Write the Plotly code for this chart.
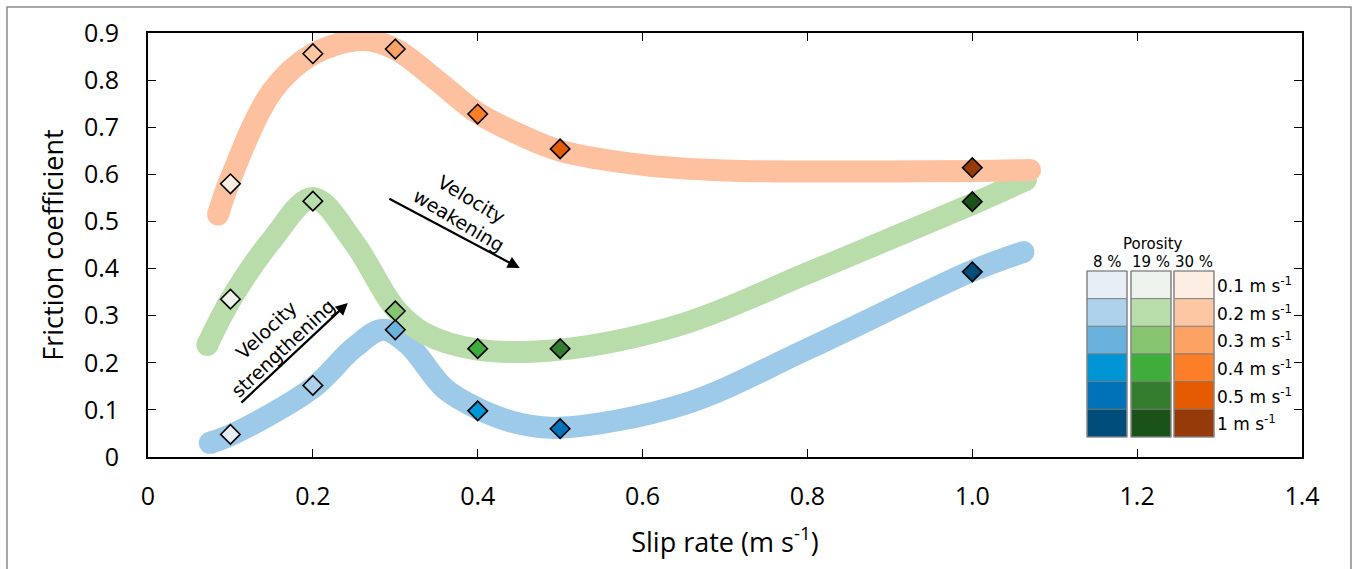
import plotly.graph_objects as go

# Measured friction coefficients at each slip rate, one series per porosity
slip_rate = [0.1, 0.2, 0.3, 0.4, 0.5, 1.0]
mu_8 = [0.048, 0.152, 0.270, 0.098, 0.060, 0.393]
mu_19 = [0.335, 0.543, 0.310, 0.230, 0.230, 0.542]
mu_30 = [0.580, 0.856, 0.866, 0.728, 0.654, 0.614]

# Hand-drawn trend bands behind the measurements
trend_x_8 = [0.075, 0.1, 0.2, 0.25, 0.285, 0.315, 0.36, 0.4, 0.45, 0.5, 0.65, 0.8, 1.0, 1.062]
trend_8 = [0.030, 0.046, 0.147, 0.232, 0.270, 0.240, 0.145, 0.103, 0.071, 0.062, 0.112, 0.229, 0.395, 0.435]
trend_x_19 = [0.072, 0.1, 0.15, 0.2, 0.25, 0.3, 0.335, 0.4, 0.5, 0.65, 0.8, 1.0, 1.065]
trend_19 = [0.238, 0.333, 0.460, 0.550, 0.455, 0.315, 0.263, 0.228, 0.228, 0.283, 0.390, 0.537, 0.588]
trend_x_30 = [0.085, 0.1, 0.15, 0.2, 0.26, 0.3, 0.35, 0.4, 0.45, 0.5, 0.6, 0.7, 0.85, 1.0, 1.07]
trend_30 = [0.515, 0.590, 0.775, 0.855, 0.885, 0.866, 0.800, 0.730, 0.685, 0.650, 0.620, 0.608, 0.606, 0.607, 0.609]

porosity_labels = ["8 %", "19 %", "30 %"]
rate_labels = ["0.1 m s<sup>-1</sup>", "0.2 m s<sup>-1</sup>", "0.3 m s<sup>-1</sup>",
               "0.4 m s<sup>-1</sup>", "0.5 m s<sup>-1</sup>", "1 m s<sup>-1</sup>"]

# Colour ramps (one shade per slip rate) for each porosity
blues = ["#e8eef5", "#aed2ec", "#6bb1dd", "#0095d5", "#0072b8", "#004c7a"]
greens = ["#edf3ec", "#b9ddaa", "#86c46f", "#3fad3b", "#347c2e", "#1a5219"]
oranges = ["#fdeee4", "#fdc7a3", "#fda265", "#fd7e28", "#e45b02", "#953a08"]
band_colors = ["#9ecae9", "#b8ddaa", "#fdc1a0"]

x_ticks = [0, 0.2, 0.4, 0.6, 0.8, 1.0, 1.2, 1.4]
x_ticktext = ["0", "0.2", "0.4", "0.6", "0.8", "1.0", "1.2", "1.4"]
y_ticks = [0, 0.1, 0.2, 0.3, 0.4, 0.5, 0.6, 0.7, 0.8, 0.9]
y_ticktext = ["0", "0.1", "0.2", "0.3", "0.4", "0.5", "0.6", "0.7", "0.8", "0.9"]

W, H = 1356, 569
M_L, M_R, M_T, M_B = 148, 54, 33, 112
PW, PH = W - M_L - M_R, H - M_T - M_B


def px(xp):
    return (xp - M_L) / PW


def py(yp):
    return (H - M_B - yp) / PH


fig = go.Figure()

BAND_W = 22
for tx, ty, col in [(trend_x_8, trend_8, band_colors[0]),
                    (trend_x_19, trend_19, band_colors[1]),
                    (trend_x_30, trend_30, band_colors[2])]:
    fig.add_trace(go.Scatter(x=tx, y=ty, mode="lines",
                             line=dict(color=col, width=BAND_W, shape="spline", smoothing=1.0),
                             hoverinfo="skip", showlegend=False))
    # rounded ends of the band
    fig.add_trace(go.Scatter(x=[tx[0], tx[-1]], y=[ty[0], ty[-1]], mode="markers",
                             marker=dict(color=col, size=BAND_W, line=dict(width=0)),
                             hoverinfo="skip", showlegend=False))

for mu, ramp, name in [(mu_8, blues, "8 %"), (mu_19, greens, "19 %"), (mu_30, oranges, "30 %")]:
    fig.add_trace(go.Scatter(x=slip_rate, y=mu, mode="markers", name=name,
                             marker=dict(symbol="diamond", size=15, color=ramp,
                                         line=dict(color="black", width=1.6)),
                             showlegend=False))

shapes = []
annotations = []

# Outer frame around the figure
shapes.append(dict(type="rect", xref="paper", yref="paper",
                   x0=px(7), x1=px(1351), y0=py(600), y1=py(7),
                   line=dict(color="#8a8a8a", width=1.5), fillcolor="rgba(0,0,0,0)", layer="below"))

# Colour key grid: porosity columns x slip-rate rows
col_edges = [(1087, 1127), (1131, 1171), (1174, 1214)]
row_top, row_bot = 271, 437
n_rows = len(rate_labels)
row_h = (row_bot - row_top) / n_rows
for (c0, c1), ramp in zip(col_edges, [blues, greens, oranges]):
    for i, colr in enumerate(ramp):
        y0 = row_top + i * row_h
        shapes.append(dict(type="rect", xref="paper", yref="paper",
                           x0=px(c0), x1=px(c1), y0=py(y0 + row_h), y1=py(y0),
                           fillcolor=colr, line=dict(color="#7a7a7a", width=0.8)))
    shapes.append(dict(type="rect", xref="paper", yref="paper",
                       x0=px(c0), x1=px(c1), y0=py(row_bot), y1=py(row_top),
                       fillcolor="rgba(0,0,0,0)", line=dict(color="#8a8a8a", width=1.2)))

rate_font = dict(family="DejaVu Sans, Verdana", size=17, color="black")
head_font = dict(family="DejaVu Sans, Verdana", size=15, color="black")
for i, lab in enumerate(rate_labels):
    annotations.append(dict(xref="paper", yref="paper", x=px(1215), y=py(row_top + (i + 0.5) * row_h),
                            text=lab, showarrow=False, xanchor="left", yanchor="middle", font=rate_font))
annotations.append(dict(xref="paper", yref="paper", x=px(1153), y=py(244), text="Porosity",
                        showarrow=False, xanchor="center", yanchor="middle", font=head_font))
for (c0, c1), lab in zip(col_edges, porosity_labels):
    annotations.append(dict(xref="paper", yref="paper", x=px((c0 + c1) / 2), y=py(262), text=lab,
                            showarrow=False, xanchor="center", yanchor="middle", font=head_font))

# Trend arrows with their labels
ann_font = dict(family="DejaVu Sans, Verdana", size=19, color="black")
annotations.append(dict(x=0.2424, y=0.327, ax=0.1115, ay=0.1125, xref="x", yref="y",
                        axref="x", ayref="y", text="", showarrow=True,
                        arrowhead=2, arrowsize=1.1, arrowwidth=2.2, arrowcolor="black"))
annotations.append(dict(x=0.451, y=0.401, ax=0.291, ay=0.55, xref="x", yref="y",
                        axref="x", ayref="y", text="", showarrow=True,
                        arrowhead=2, arrowsize=1.1, arrowwidth=2.2, arrowcolor="black"))
annotations.append(dict(x=0.153, y=0.25, xref="x", yref="y", text="Velocity<br>strengthening",
                        showarrow=False, textangle=-43, font=ann_font, align="center"))
annotations.append(dict(x=0.384, y=0.525, xref="x", yref="y", text="Velocity<br>weakening",
                        showarrow=False, textangle=31, font=ann_font, align="center"))

axis_font = dict(family="Open Sans, Segoe UI, sans-serif", size=25, color="black")
title_font = dict(family="Open Sans, Segoe UI, sans-serif", size=27, color="black")

fig.update_layout(
    width=W, height=H,
    margin=dict(l=M_L, r=M_R, t=M_T, b=M_B),
    paper_bgcolor="white", plot_bgcolor="white",
    shapes=shapes, annotations=annotations,
    xaxis=dict(range=[0, 1.4], tickvals=x_ticks, ticktext=x_ticktext,
               showgrid=False, zeroline=False, showline=True, linecolor="black", linewidth=1.8,
               mirror="ticks", ticks="inside", ticklen=8, tickwidth=1.3, tickcolor="black",
               tickfont=axis_font, ticklabelstandoff=16,
               title=dict(text="Slip rate (m s<sup>-1</sup>)", font=title_font, standoff=22)),
    yaxis=dict(range=[0, 0.9], tickvals=y_ticks, ticktext=y_ticktext,
               showgrid=False, zeroline=False, showline=True, linecolor="black", linewidth=1.8,
               mirror="ticks", ticks="inside", ticklen=8, tickwidth=1.3, tickcolor="black",
               tickfont=axis_font, ticklabelstandoff=22,
               title=dict(text="Friction coefficient", font=title_font, standoff=12)),
)

fig.write_html("out.html")
